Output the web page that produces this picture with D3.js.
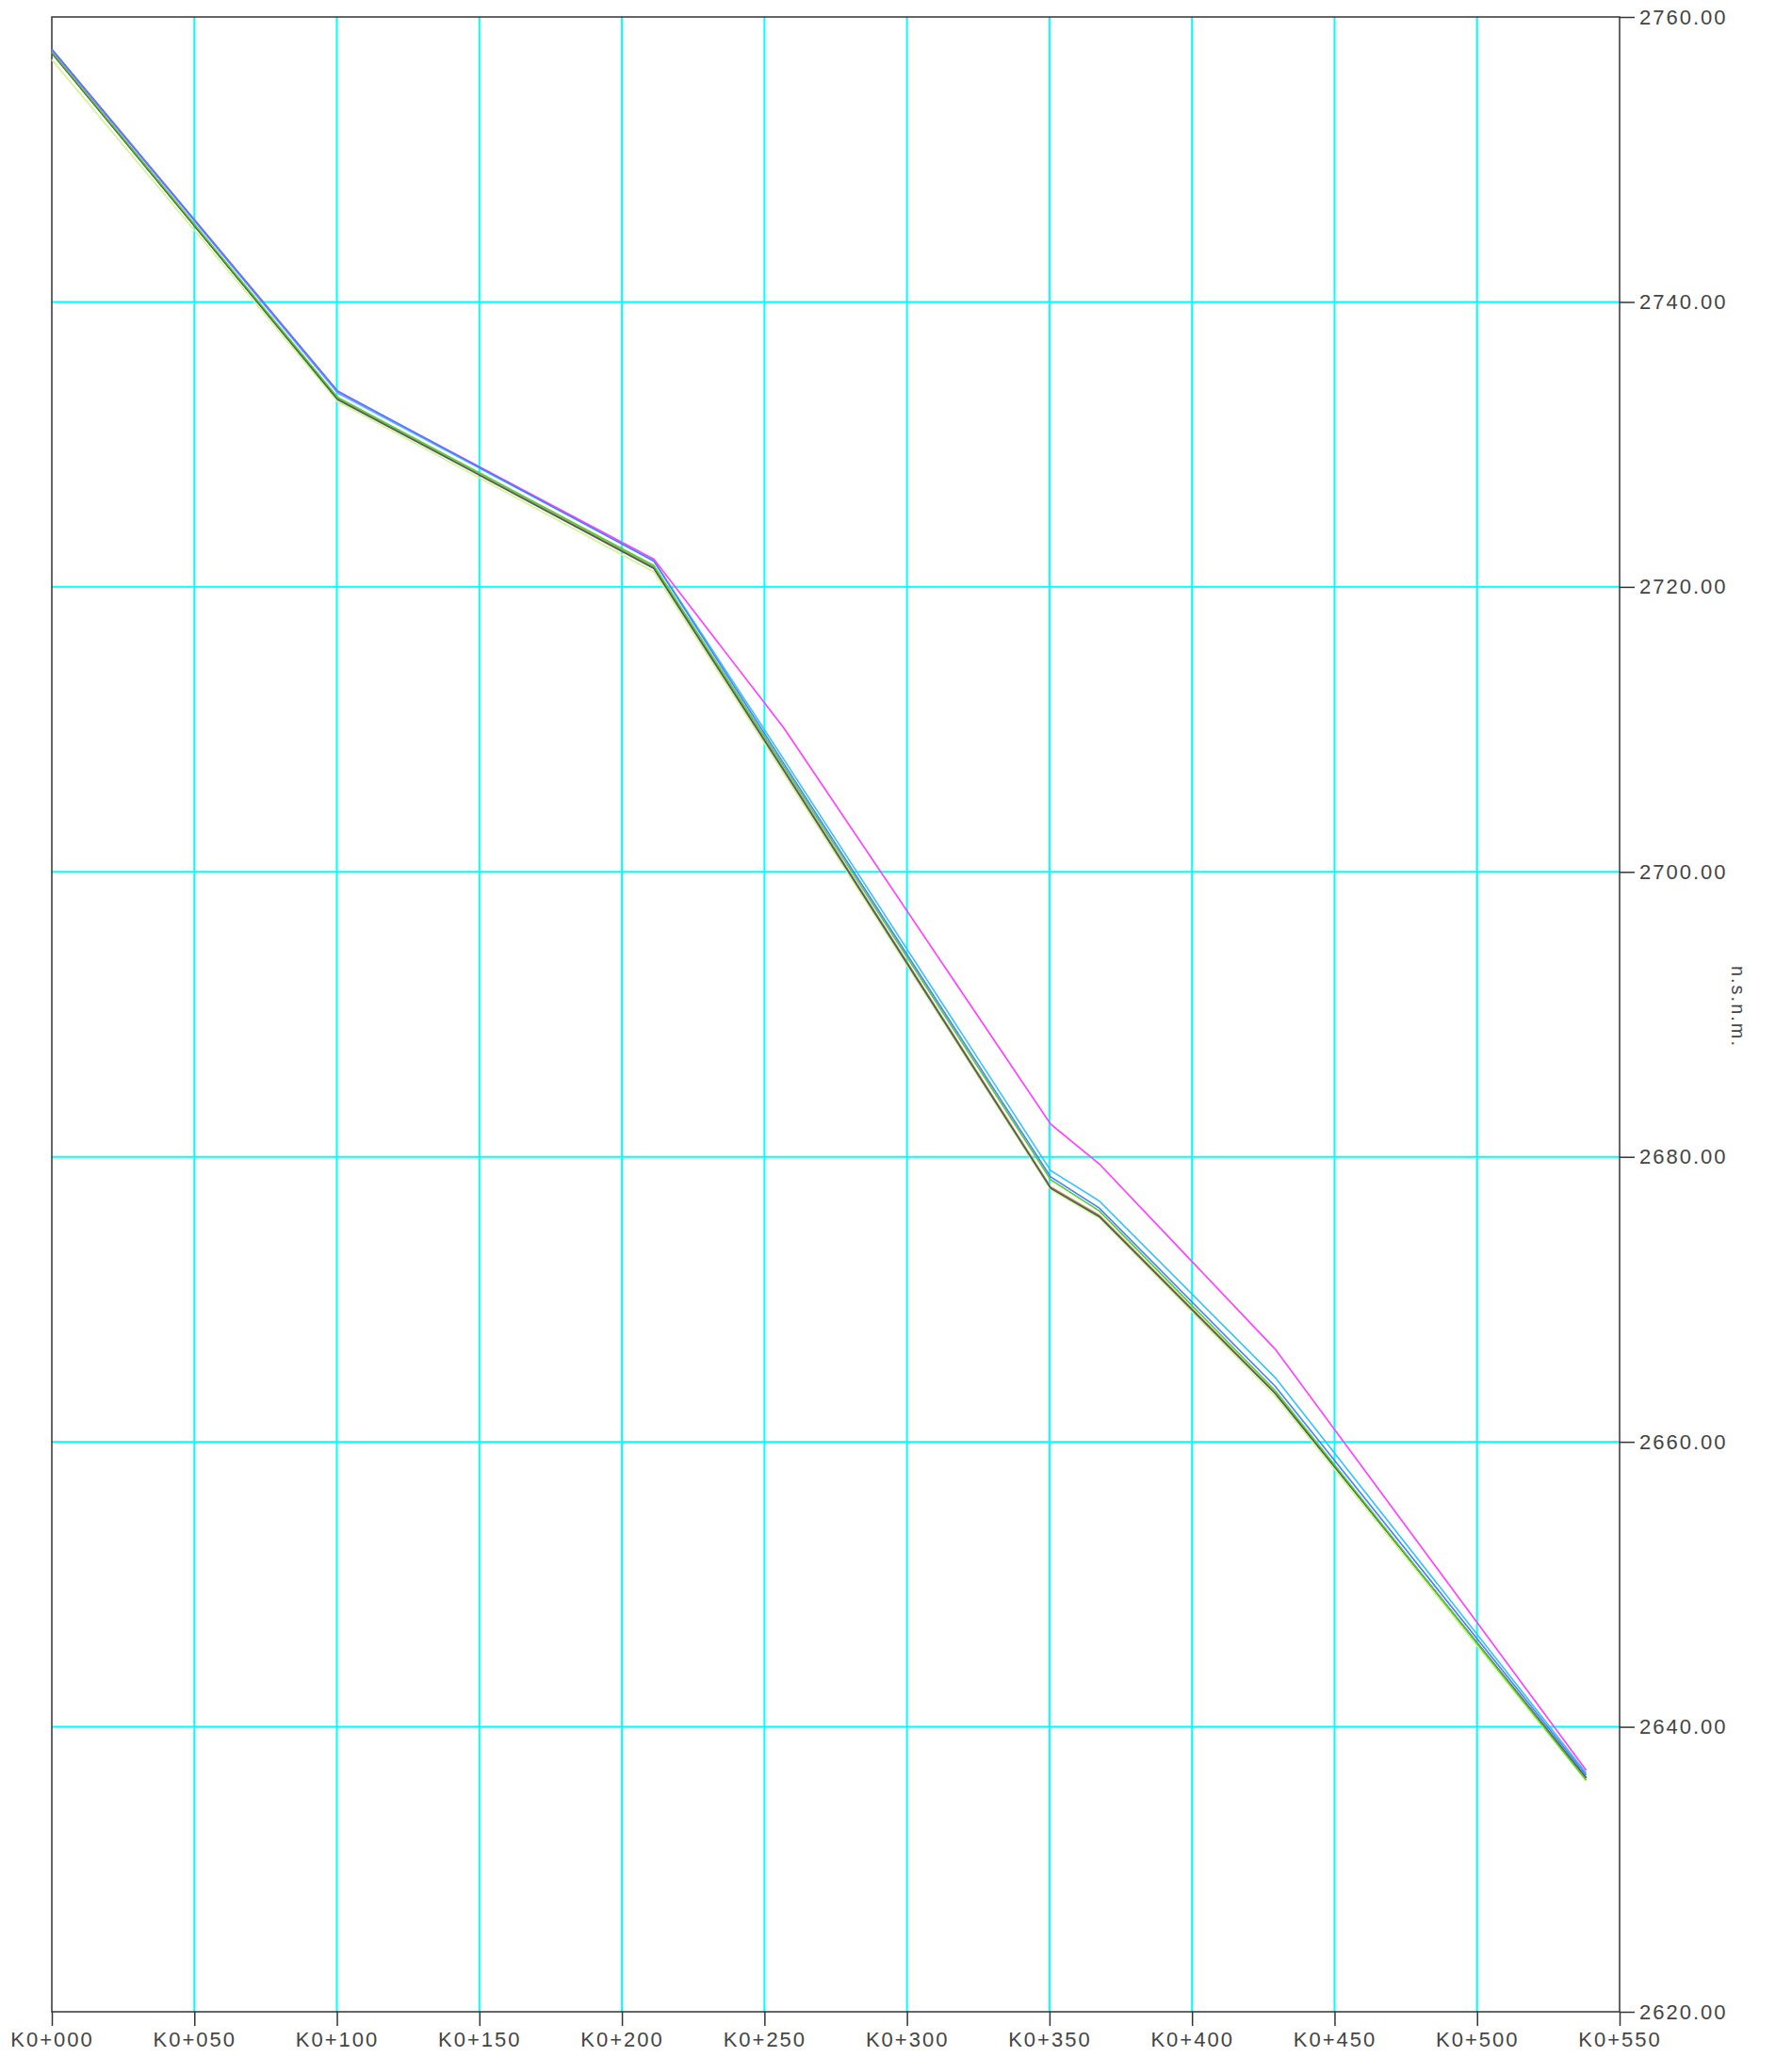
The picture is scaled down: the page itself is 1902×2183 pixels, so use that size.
<html>
    <head>
        <style>
        body {
            margin: 0;
            background: #ffffff;
        }

        svg {
            display: block;
        }

        .label {
            font-family: "Liberation Sans", sans-serif;
            font-size: 22px;
            letter-spacing: 2px;
            fill: #444444;
        }

        .x .domain, .y .domain {
            display: none;
        }

        .x .tick line, .y .tick line {
            stroke: #333333;
            stroke-width: 1.5;
        }
        </style>
    </head>
    <body>
        <div id="plot"></div>
        <script src="https://d3js.org/d3.v7.min.js"></script>
        <script>

            // stations (m) where the profiles break
            let stations = [0, 100.3, 211.2, 256.8, 350.4, 367.5, 429.2, 538.3]

            // elevations, one array per profile line
            let magenta  = [2757.7, 2733.7, 2721.95, 2710.1, 2682.3, 2679.5, 2666.5, 2636.95]
            let skyblue  = [2757.7, 2733.6, 2721.85, 2707.9, 2679.05, 2676.9, 2664.5, 2636.75]
            let blue     = [2757.75, 2733.75, 2721.8, 2707.6, 2678.6, 2676.4, 2663.9, 2636.6]
            let green    = [2757.55, 2733.3, 2721.5, 2707.4, 2678.4, 2676.2, 2663.6, 2636.25]
            let orange   = [2757.5, 2733.2, 2721.4, 2707.2, 2677.9, 2675.9, 2663.45, 2636.4]
            let purple   = [2757.5, 2733.2, 2721.35, 2707.2, 2677.85, 2675.85, 2663.4, 2636.45]
            let olive    = [2757.45, 2733.15, 2721.3, 2707.1, 2677.8, 2675.8, 2663.4, 2636.4]
            let palegreen = [2757.0, 2733.0, 2721.05, 2706.9, 2677.7, 2675.7, 2663.2, 2636.2]

            let xTicks = [0, 50, 100, 150, 200, 250, 300, 350, 400, 450, 500, 550]
            let xTickLabels = ["K0+000", "K0+050", "K0+100", "K0+150", "K0+200", "K0+250",
                               "K0+300", "K0+350", "K0+400", "K0+450", "K0+500", "K0+550"]
            let yTicks = [2620, 2640, 2660, 2680, 2700, 2720, 2740, 2760]
            let yTitle = "n.s.n.m."

            // draw order: bottom first
            let series = [
                {values: palegreen, color: "#d4f39a"},
                {values: orange, color: "#ffa23a"},
                {values: purple, color: "#9384a8"},
                {values: olive, color: "#4f5f4a"},
                {values: green, color: "#55d02e"},
                {values: skyblue, color: "#33c2ff"},
                {values: magenta, color: "#ff3cff"},
                {values: blue, color: "#4a7dff"}
            ]

            let width = 1902
            let height = 2183
            let margin = {top: 18, right: 183, bottom: 48, left: 55}

            let svg = d3.select("#plot")
                .append("svg")
                .attr("width", width)
                .attr("height", height)

            let x = d3.scaleLinear()
                .domain([0, 550])
                .range([margin.left, width - margin.right])

            let y = d3.scaleLinear()
                .domain([2620, 2760])
                .range([height - margin.bottom, margin.top])

            // cyan grid
            let grid = svg.append("g").attr("class", "grid")

            grid.selectAll(".vgrid")
                .data(xTicks.slice(1, -1))
                .join("line")
                .attr("x1", d => x(d))
                .attr("x2", d => x(d))
                .attr("y1", y(2760))
                .attr("y2", y(2620))
                .style("stroke", "#00ffff")
                .style("stroke-width", 2)

            grid.selectAll(".hgrid")
                .data(yTicks.slice(1, -1))
                .join("line")
                .attr("x1", x(0))
                .attr("x2", x(550))
                .attr("y1", d => y(d))
                .attr("y2", d => y(d))
                .style("stroke", "#00ffff")
                .style("stroke-width", 2)

            // frame
            svg.append("rect")
                .attr("x", x(0))
                .attr("y", y(2760))
                .attr("width", x(550) - x(0))
                .attr("height", y(2620) - y(2760))
                .style("fill", "none")
                .style("stroke", "#333333")
                .style("stroke-width", 1.5)

            // profile lines
            let line = d3.line()
                .x((d, i) => x(stations[i]))
                .y(d => y(d))

            svg.append("g")
                .attr("class", "lines")
                .selectAll("path")
                .data(series)
                .join("path")
                .attr("d", d => line(d.values))
                .style("fill", "none")
                .style("stroke", d => d.color)
                .style("stroke-width", 1.6)

            // axes
            let xAxisSettings = d3.axisBottom(x)
                .tickValues(xTicks)
                .tickSize(15)
                .tickPadding(6)
                .tickFormat((d, i) => xTickLabels[i])

            let xAxisTicks = svg.append("g")
                .attr("class", "x axis")
                .attr("transform", `translate(0, ${y(2620)})`)
                .call(xAxisSettings)

            let yAxisSettings = d3.axisRight(y)
                .tickValues(yTicks)
                .tickSize(16)
                .tickPadding(5)
                .tickFormat(d3.format(".2f"))

            let yAxisTicks = svg.append("g")
                .attr("class", "y axis")
                .attr("transform", `translate(${x(550)}, 0)`)
                .call(yAxisSettings)

            svg.selectAll(".axis text")
                .attr("class", "label")
                .attr("font-family", null)
                .attr("font-size", null)

            svg.append("text")
                .attr("class", "label")
                .attr("transform", `translate(1838, ${(y(2620) + y(2760)) / 2 - 8}) rotate(90)`)
                .attr("text-anchor", "middle")
                .style("font-size", "20px")
                .text(yTitle)

        </script>
    </body>
</html>
